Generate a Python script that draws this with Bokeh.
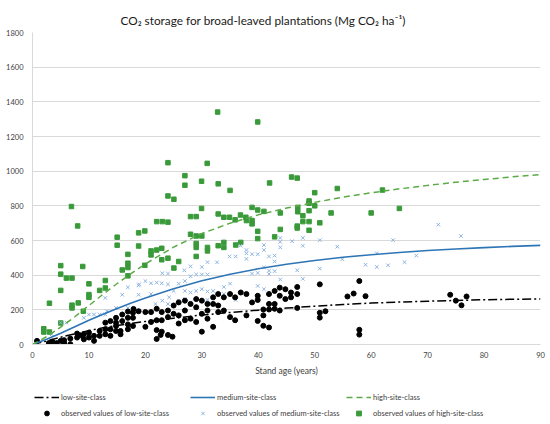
from bokeh.plotting import figure
from bokeh.models import Legend, LegendItem, FixedTicker, Range1d
from bokeh.layouts import column
from bokeh.embed import file_html
from bokeh.resources import INLINE

# ---- fitted curves ----
curve_age = [0, 2.5, 5, 7.5, 10, 12.5, 15, 17.5, 20, 25, 30, 35, 40, 45, 50, 55, 60, 65, 70, 75, 80, 85, 90]
low_curve = [0, 20, 42, 62, 80, 97, 110, 122, 133, 152, 170, 185, 198, 210, 221, 231, 239, 245, 250, 254, 258, 261, 263]
medium_curve = [0, 30, 65, 102, 140, 175, 208, 240, 268, 322, 368, 405, 437, 463, 485, 503, 518, 531, 542, 551, 559, 566, 572]
high_curve = [0, 45, 100, 160, 225, 290, 352, 410, 465, 562, 640, 700, 748, 787, 820, 850, 875, 898, 918, 936, 952, 967, 981]

# ---- observed values ----
low_age = [0.8, 2.9, 3.5, 4.3, 5, 5.6, 5.6, 6.7, 6.7, 7.9, 7.9, 8.5, 9.1, 9.1, 10, 10, 10.9, 10.9, 11.9, 11.9,
           12.9, 12.9, 12.9, 13.8, 13.8, 13.8, 14.8, 14.8, 14.8, 14.8, 15.6, 15.6, 15.9, 15.9, 16.9, 16.9, 16.9,
           17.8, 17.8, 17.8, 18.8, 17.9, 16.9,
           20, 22, 22, 22.9, 22.9, 22.9, 24, 24, 25, 25, 25.9, 25.9, 27, 27, 27, 28, 28, 29, 29, 29, 30, 30, 30,
           31, 31, 31, 32, 32, 32.9, 32.9, 32.9, 33.9, 35, 35, 35.9, 35.9, 36.9, 20, 21, 21, 22, 22.7, 24, 24.8,
           22, 25.9, 33.9, 32,
           37.9, 38.9, 39.9, 39.9, 41.9, 41.9, 41.9, 42.9, 42.9, 42.9, 43.8, 43.8, 43.8, 44.8, 44.8, 45.8, 45.8,
           46.9, 46.9, 46.9, 50.9, 50.9, 50.9, 51.9, 55.8, 37.9, 40.9, 40.9, 39.9, 40.9, 41.9,
           57.9, 56.9, 59, 74, 75, 76, 76.9, 57.9, 57.9]
low_val = [21, 8, 17, 8, 21, 25, 8, 34, 2, 63, 40, 53, 59, 30, 69, 40, 50, 21, 78, 50,
           88, 59, 126, 135, 88, 50, 154, 126, 107, 78, 78, 59, 173, 135, 154, 116, 88,
           183, 154, 107, 192, 205, 190,
           187, 206, 140, 187, 140, 74, 196, 158, 225, 177, 243, 168, 253, 196, 140, 234, 149, 262, 215, 130, 253, 177, 74,
           234, 196, 149, 272, 234, 291, 225, 187, 272, 291, 158, 272, 140, 300, 102, 130, 187, 83, 55, 55, 45,
           32, 121, 196, 102,
           291, 243, 281, 257, 291, 234, 202, 309, 234, 206, 328, 281, 196, 319, 262, 300, 272,
           332, 291, 211, 347, 183, 155, 192, 277, 168, 202, 168, 136, 108, 98,
           366, 294, 279, 287, 253, 226, 277, 85, 57]

medium_age = [12.9, 16.9, 15.9, 18.8, 12.9, 11.9, 10.9, 10, 9.1, 6, 5, 3.4, 13.2, 14.8, 16.9, 18.8,
              23, 24, 26.9, 28, 30, 31, 32.7, 34.9, 36, 18.9, 20, 21, 22, 22.9, 24, 25.9, 27, 28, 29, 30, 31,
              27, 28, 29, 30, 31, 32, 33.9, 35, 33.9, 24.2, 25, 23, 21, 25.9, 31, 36, 21.8, 24, 27, 28,
              43.9, 43.9, 46, 47.9, 50.9, 36.85, 41, 43.9, 47.9, 54, 37.9, 37.9, 38.9, 39.9, 41, 41.9, 42.9,
              37.9, 42.9, 41, 39.9, 38.9, 41.9, 41.9, 42.9, 46.9, 50.9, 43.9, 47.9, 39.9, 41,
              71.9, 75.9, 63.9, 61, 68, 65.9, 59, 61, 63, 54.9]
medium_val = [269, 330, 287, 341, 173, 173, 173, 173, 154, 126, 126, 59, 192, 211, 211, 287,
              411, 409, 428, 451, 447, 475, 474, 508, 508, 347, 366, 353, 357, 353, 347, 351, 366, 394, 404, 404, 404,
              309, 300, 309, 319, 306, 309, 332, 351, 291, 272, 309, 253, 291, 253, 257, 257, 234, 234, 262, 243,
              615, 592, 596, 615, 602, 570, 574, 560, 570, 564, 545, 526, 521, 521, 545, 508, 513,
              494, 479, 445, 413, 409, 426, 407, 423, 428, 438, 375, 379, 338, 319,
              691, 626, 602, 526, 513, 475, 460, 447, 457, 492]

high_age = [6.9, 8.0, 15, 15, 18.8, 18.8, 16.9, 16.9, 16.9, 15.9, 16.9, 5, 5, 6, 7, 8.9, 5, 10, 10, 10,
            12.9, 12.9, 11.9, 8.1, 7, 7, 9, 3, 2, 2, 3, 5,
            24, 30.95, 27, 27, 29.95, 32.9, 35, 24, 25.05, 29.95, 22, 23, 24, 28, 29, 32.9, 33.9, 34.9, 35.9, 37.8,
            19.9, 28, 29, 30, 29, 29, 29, 31, 31, 32.9, 33.9, 33.9, 36, 36.9, 21, 21, 22, 22.9, 22.9, 24, 25.9,
            25.05, 19.9,
            42, 45.9, 46.9, 50, 54, 49, 49, 50, 47, 47, 49, 52.9, 38.9, 39.9, 41, 43.9, 36.85, 37.9, 38.9, 38.9,
            47.9, 47.9, 49, 50.9, 46.9, 46.9, 43.9, 49, 39.9, 39.9, 42.9,
            32.8, 39.9, 60, 62, 65]
high_val = [796, 684, 619, 573, 644, 568, 520, 469, 444, 430, 396, 455, 406, 383, 383, 450, 312, 350, 288, 272,
            369, 326, 312, 240, 227, 211, 192, 238, 91, 72, 72, 124,
            1049, 1045, 974, 919, 942, 927, 889, 857, 838, 785, 709, 709, 706, 738, 738, 753, 734, 734, 719, 734,
            655, 636, 626, 626, 583, 560, 508, 560, 540, 570, 589, 560, 574, 589, 540, 517, 545, 555, 489, 498, 479,
            441, 457,
            932, 966, 960, 876, 900, 828, 815, 800, 791, 766, 772, 759, 791, 776, 768, 759, 747, 715, 715, 696,
            743, 709, 709, 702, 683, 672, 664, 659, 653, 611, 621,
            1341, 1284, 759, 891, 785]

x_ticks = [0, 10, 20, 30, 40, 50, 60, 70, 80, 90]
y_ticks = [0, 200, 400, 600, 800, 1000, 1200, 1400, 1600, 1800]

FONT = "Lato"
TXT = "#404040"

LOW = dict(line_color="black", line_width=1.5, line_dash="9 3 2 3")
MED = dict(line_color="#2e75b6", line_width=1.6)
HIGH = dict(line_color="#5aaa46", line_width=1.5, line_dash="6 4")
OBS_LOW = dict(marker="circle", size=5, fill_color="black", line_color="black")
OBS_MED = dict(marker="x", size=5, line_color="#8db4e2", line_width=1)
OBS_HIGH = dict(marker="square", size=4.5, fill_color="#3a9a3a", line_color="#3a9a3a")

p = figure(width=548, height=378, output_backend="svg", toolbar_location=None,
           x_range=Range1d(0, 90), y_range=Range1d(0, 1800),
           min_border_left=32, min_border_right=8, min_border_top=32, min_border_bottom=31)
p.title.text = "CO\u2082 storage for broad-leaved plantations (Mg CO\u2082 ha\u207b\u00b9)"
p.title.align = "left"
p.title.offset = 88
p.title.text_font = FONT
p.title.text_font_size = "11.8px"
p.title.text_font_style = "normal"
p.title.text_color = "#1a1a1a"
p.outline_line_color = None

for ax in (p.xaxis[0], p.yaxis[0]):
    ax.axis_line_color = "#d9d9d9"
    ax.major_tick_line_color = None
    ax.minor_tick_line_color = None
    ax.major_tick_out = 0
    ax.major_tick_in = 0
    ax.major_label_text_font = FONT
    ax.major_label_text_font_size = "7.5px"
    ax.major_label_text_color = TXT
p.xaxis.ticker = FixedTicker(ticks=x_ticks)
p.yaxis.ticker = FixedTicker(ticks=y_ticks)
p.xaxis.major_label_standoff = 7
p.yaxis.major_label_standoff = 9
p.xaxis.axis_label = "Stand age (years)"
p.xaxis.axis_label_text_font = FONT
p.xaxis.axis_label_text_font_size = "8.5px"
p.xaxis.axis_label_text_font_style = "normal"
p.xaxis.axis_label_text_color = TXT
p.xaxis.axis_label_standoff = 5
p.xgrid.grid_line_color = None
p.ygrid.grid_line_color = "#d9d9d9"
p.ygrid.ticker = FixedTicker(ticks=y_ticks)

p.scatter(high_age, high_val, **OBS_HIGH)
p.scatter(medium_age, medium_val, **OBS_MED)
p.scatter(low_age, low_val, **OBS_LOW)
p.line(curve_age, low_curve, **LOW)
p.line(curve_age, medium_curve, **MED)
p.line(curve_age, high_curve, **HIGH)

# ---- legend panel (key glyphs only, placed outside the visible range) ----
lg = figure(width=548, height=44, output_backend="svg", toolbar_location=None,
            x_range=Range1d(0, 1), y_range=Range1d(0, 1),
            min_border=0, outline_line_color=None)
lg.axis.visible = False
lg.grid.visible = False
off = [-5]
k_lo = lg.line(off, off, **LOW)
k_me = lg.line(off, off, **MED)
k_hi = lg.line(off, off, **HIGH)
o_lo = lg.scatter(off, off, **OBS_LOW)
o_me = lg.scatter(off, off, **OBS_MED)
o_hi = lg.scatter(off, off, **OBS_HIGH)

legend = Legend(items=[
    LegendItem(label="low-site-class", renderers=[k_lo]),
    LegendItem(label="medium-site-class", renderers=[k_me]),
    LegendItem(label="high-site-class", renderers=[k_hi]),
    LegendItem(label="observed values of low-site-class", renderers=[o_lo]),
    LegendItem(label="observed values of medium-site-class", renderers=[o_me]),
    LegendItem(label="observed values of high-site-class", renderers=[o_hi]),
], orientation="horizontal", ncols=3)
legend.location = (2, 3)
legend.glyph_width = 25
legend.glyph_height = 12
legend.label_standoff = 2
legend.label_width = 125
legend.label_height = 12
legend.spacing = 4
legend.padding = 0
legend.margin = 0
legend.border_line_color = None
legend.background_fill_alpha = 0
legend.label_text_font = FONT
legend.label_text_font_size = "7.5px"
legend.label_text_color = TXT
lg.add_layout(legend, "center")

layout = column(p, lg, spacing=0)
open("out.html", "w").write(file_html(layout, INLINE))
